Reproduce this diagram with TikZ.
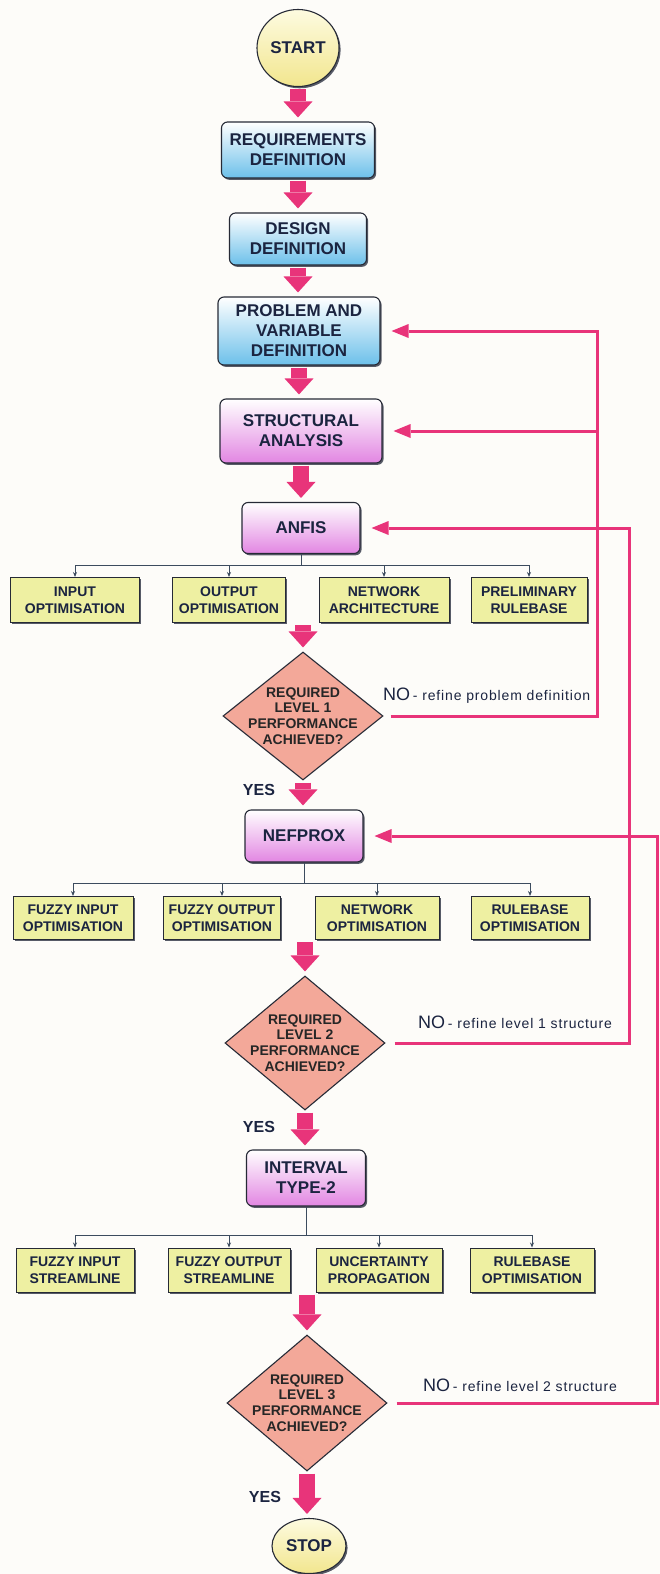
\documentclass[tikz,border=0pt]{standalone}
\usepackage{fontspec}
\setmainfont{Liberation Sans}
\usepackage{xcolor}
\usepackage{tikz}
\usetikzlibrary{arrows.meta,positioning,calc,shapes.geometric,shadows}

\definecolor{bgcream}{HTML}{FDFCF9}
\definecolor{textnavy}{HTML}{1B2440}
\definecolor{edgedark}{HTML}{262A36}
\definecolor{shadowc}{HTML}{3A3F4E}
\definecolor{termtop}{HTML}{FDFBE0}
\definecolor{termbot}{HTML}{F2E68E}
\definecolor{boxblue}{HTML}{6CC0EA}
\definecolor{boxpink}{HTML}{E286E2}
\definecolor{optyellow}{HTML}{EEF0A2}
\definecolor{decfill}{HTML}{F3A899}
\definecolor{loopred}{HTML}{E8347A}
\definecolor{treeline}{HTML}{3C4B5E}

\newcommand{\nolabel}[1]{{\fontsize{18}{21}\selectfont NO} {\fontsize{14}{17}\selectfont\addfontfeatures{LetterSpace=6}- #1}}

\begin{document}
\begin{tikzpicture}[
  x=1pt, y=1pt,
  boxfont/.style={font=\fontsize{17}{20}\selectfont\bfseries, text=textnavy, align=center},
  boxshadow/.style={drop shadow={shadow xshift=1.6pt, shadow yshift=-1.8pt, fill=shadowc, opacity=.85}},
  term/.style={ellipse, draw=edgedark, line width=1.1pt, top color=termtop, bottom color=termbot,
    inner sep=0pt, minimum width=82pt, minimum height=77pt, boxfont, boxshadow},
  bluebox/.style={draw=edgedark, line width=1.1pt, rounded corners=6pt, top color=white,
    bottom color=boxblue, inner sep=0pt, boxfont, boxshadow},
  pinkbox/.style={bluebox, top color=white, bottom color=boxpink},
  optbox/.style={draw=edgedark, line width=1pt, fill=optyellow, inner sep=0pt, minimum height=45pt,
    font=\fontsize{14}{16.5}\selectfont\bfseries, text=textnavy, align=center, boxshadow},
  dec/.style={diamond, draw=edgedark, line width=1.1pt, fill=decfill, inner sep=-30pt,
    minimum width=160pt, minimum height=128pt, font=\fontsize{14}{15.8}\selectfont\bfseries,
    text=black!85, align=center},
  fat/.style={-{Triangle[length=16pt, width=29pt, line width=0pt]}, line width=16pt, draw=loopred,
    shorten <=2pt, shorten >=4pt},
  loopline/.style={draw=loopred, line width=3pt},
  looparr/.style={loopline, -{Triangle[length=17pt, width=14pt, line width=0pt]}, shorten >=11pt},
  tree/.style={draw=treeline, line width=1pt},
  treearr/.style={tree, -{Stealth[length=5pt, width=4pt]}},
  yeslbl/.style={font=\fontsize{16}{19}\selectfont\bfseries, text=textnavy},
  nolbl/.style={anchor=west, text=textnavy, inner sep=0pt}
]
\fill[bgcream] (0,0) rectangle (660,-1574);
\useasboundingbox (0,0) rectangle (660,-1574);

% main column
\node[term] (start) at (298,-48) {START};
\node[bluebox, minimum width=153pt, minimum height=56pt] (req) at (298,-150) {REQUIREMENTS\\DEFINITION};
\node[bluebox, minimum width=137pt, minimum height=52pt] (des) at (298,-239) {DESIGN\\DEFINITION};
\node[bluebox, minimum width=162pt, minimum height=68pt] (prob) at (299,-331) {PROBLEM AND\\VARIABLE\\DEFINITION};
\node[pinkbox, minimum width=162pt, minimum height=64pt] (struc) at (301,-431) {STRUCTURAL\\ANALYSIS};
\node[pinkbox, minimum width=118pt, minimum height=51pt] (anfis) at (301,-528) {ANFIS};

% level 1 tasks
\coordinate (bus1) at (301,-565);
\node[optbox, minimum width=129pt] (in1) at (75,-600) {INPUT\\OPTIMISATION};
\node[optbox, minimum width=113pt] (in2) at (229,-600) {OUTPUT\\OPTIMISATION};
\node[optbox, minimum width=130pt] (in3) at (384,-600) {NETWORK\\ARCHITECTURE};
\node[optbox, minimum width=116pt] (in4) at (529,-600) {PRELIMINARY\\RULEBASE};

\node[dec] (d1) at (303,-716) {REQUIRED\\LEVEL 1\\PERFORMANCE\\ACHIEVED?};
\node[yeslbl] (yes1) at (259,-790) {YES};
\node[pinkbox, minimum width=118pt, minimum height=52pt] (nefprox) at (304,-836) {NEFPROX};

% level 2 tasks
\coordinate (bus2) at (304,-883);
\node[optbox, minimum width=120pt, minimum height=43pt] (fz1) at (73,-918) {FUZZY INPUT\\OPTIMISATION};
\node[optbox, minimum width=117pt, minimum height=43pt] (fz2) at (222,-918) {FUZZY OUTPUT\\OPTIMISATION};
\node[optbox, minimum width=124pt, minimum height=43pt] (fz3) at (377,-918) {NETWORK\\OPTIMISATION};
\node[optbox, minimum width=118pt, minimum height=43pt] (fz4) at (530,-918) {RULEBASE\\OPTIMISATION};

\node[dec, minimum height=134pt] (d2) at (305,-1043) {REQUIRED\\LEVEL 2\\PERFORMANCE\\ACHIEVED?};
\node[yeslbl] (yes2) at (259,-1127) {YES};
\node[pinkbox, minimum width=119pt, minimum height=56pt] (itype) at (306,-1178) {INTERVAL\\TYPE-2};

% level 3 tasks
\coordinate (bus3) at (306,-1235);
\node[optbox, minimum width=118pt, minimum height=44pt] (st1) at (75,-1270) {FUZZY INPUT\\STREAMLINE};
\node[optbox, minimum width=122pt, minimum height=44pt] (st2) at (229,-1270) {FUZZY OUTPUT\\STREAMLINE};
\node[optbox, minimum width=126pt, minimum height=44pt] (st3) at (379,-1270) {UNCERTAINTY\\PROPAGATION};
\node[optbox, minimum width=124pt, minimum height=44pt] (st4) at (532,-1270) {RULEBASE\\OPTIMISATION};

\node[dec, minimum height=136pt] (d3) at (307,-1403) {REQUIRED\\LEVEL 3\\PERFORMANCE\\ACHIEVED?};
\node[yeslbl] (yes3) at (265,-1497) {YES};
\node[term, minimum width=74pt, minimum height=55pt] (stop) at (309,-1546) {STOP};

% block arrows down the column
\draw[fat] (start) -- (start |- req.north);
\draw[fat] (req) -- (req |- des.north);
\draw[fat] (des) -- (des |- prob.north);
\draw[fat] (prob) -- (prob |- struc.north);
\draw[fat] (struc) -- (struc |- anfis.north);
\draw[fat] (d1.north |- in2.south) -- (d1.north);
\draw[fat] (d1.south) -- (d1.south |- nefprox.north);
\draw[fat] (d2.north |- fz2.south) -- (d2.north);
\draw[fat] (d2.south) -- (d2.south |- itype.north);
\draw[fat] (d3.north |- st2.south) -- (d3.north);
\draw[fat] (d3.south) -- (d3.south |- stop.north);

% task trees
\draw[tree] (anfis.south) -- (bus1);
\draw[tree] (in1.north |- bus1) -- (in4.north |- bus1);
\foreach \n in {in1,in2,in3,in4} \draw[treearr] (\n.north |- bus1) -- (\n.north);
\draw[tree] (nefprox.south) -- (bus2);
\draw[tree] (fz1.north |- bus2) -- (fz4.north |- bus2);
\foreach \n in {fz1,fz2,fz3,fz4} \draw[treearr] (\n.north |- bus2) -- (\n.north);
\draw[tree] (itype.south) -- (bus3);
\draw[tree] (st1.north |- bus3) -- (st4.north |- bus3);
\foreach \n in {st1,st2,st3,st4} \draw[treearr] (\n.north |- bus3) -- (\n.north);

% feedback loops
\coordinate (r1) at (597,0);
\coordinate (r2) at (629,0);
\coordinate (r3) at (657,0);
\draw[looparr] ([xshift=7pt]d1.east) -- (d1.east -| r1) -- (prob.east -| r1) -- (prob.east);
\draw[looparr] (struc.east -| r1) -- (struc.east);
\draw[looparr] ([xshift=9pt]d2.east) -- (d2.east -| r2) -- (anfis.east -| r2) -- (anfis.east);
\draw[looparr] ([xshift=9pt]d3.east) -- (d3.east -| r3) -- (nefprox.east -| r3) -- (nefprox.east);

\node[nolbl] (no1) at (383,-696) {\nolabel{refine problem definition}};
\node[nolbl] (no2) at (418,-1022) {\nolabel{refine level 1 structure}};
\node[nolbl] (no3) at (423,-1385) {\nolabel{refine level 2 structure}};
\end{tikzpicture}
\end{document}
